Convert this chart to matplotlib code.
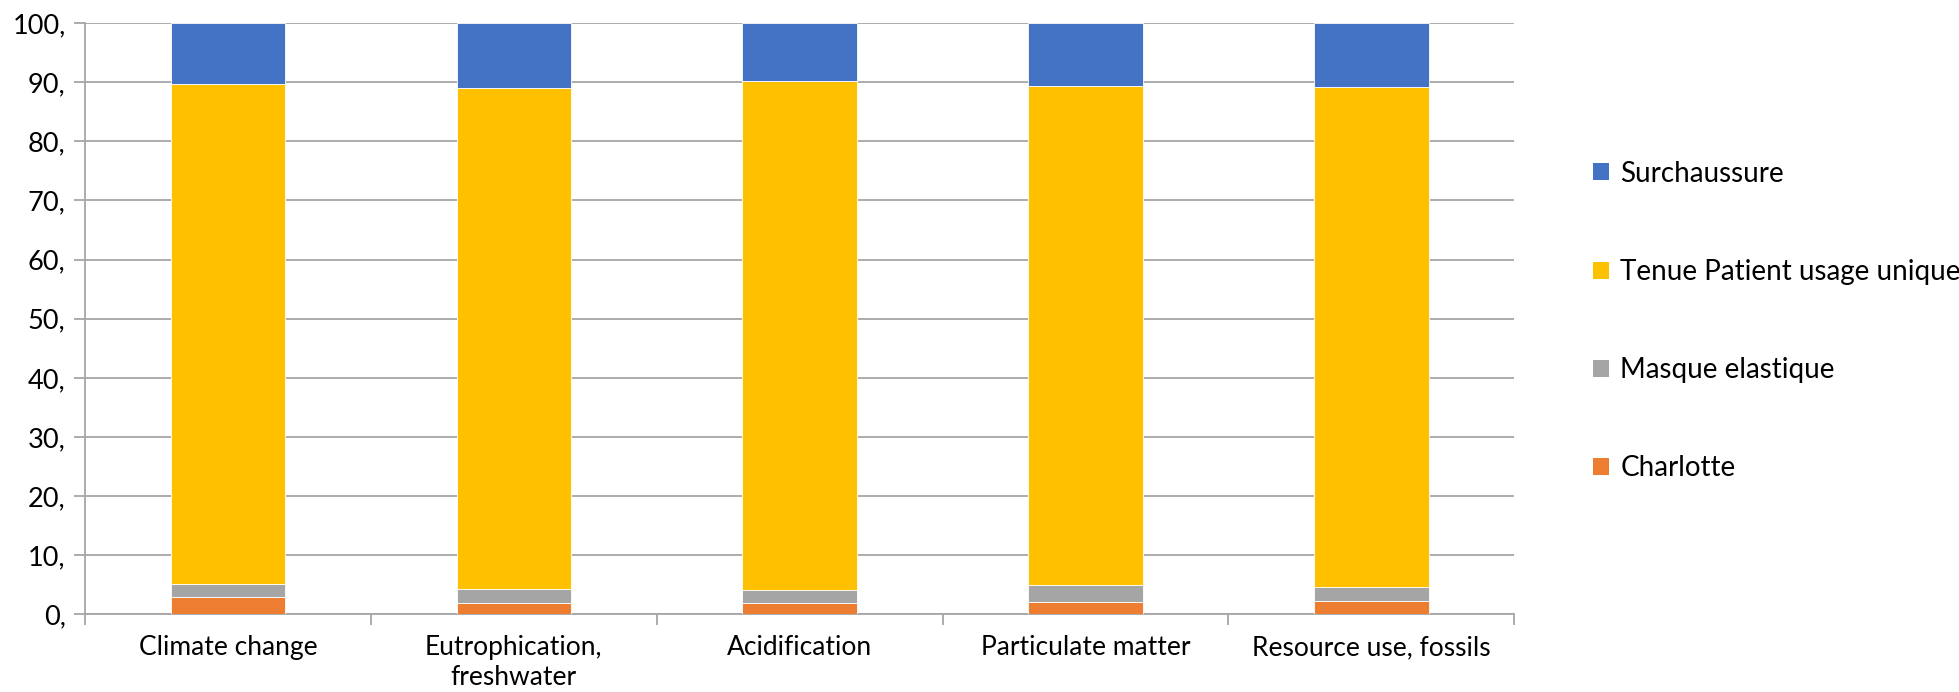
import matplotlib
matplotlib.use("Agg")
import matplotlib.pyplot as plt
from matplotlib.patches import Patch
import numpy as np

plt.rcParams['font.family'] = ['Lato', 'DejaVu Sans']

categories = ["Climate change", "Eutrophication,\nfreshwater", "Acidification",
              "Particulate matter", "Resource use, fossils"]
series_names = ["Charlotte", "Masque elastique", "Tenue Patient usage unique", "Surchaussure"]
charlotte = [2.9, 2.0, 1.9, 2.15, 2.3]
masque = [2.3, 2.35, 2.3, 2.85, 2.4]
tenue = [84.4, 84.65, 86.0, 84.4, 84.5]
surchaussure = [10.4, 11.0, 9.8, 10.6, 10.8]
colors = ["#ED7D31", "#A5A5A5", "#FFC000", "#4472C4"]
yticks = [0, 10, 20, 30, 40, 50, 60, 70, 80, 90, 100]
ytick_labels = [f"{v}," for v in yticks]

fig = plt.figure(figsize=(19.59, 6.92), dpi=100)
ax = fig.add_axes([0.0434, 0.112, 0.7296, 0.855])

x = np.arange(len(categories))
bottom = np.zeros(len(categories))
handles = []
for name, vals, col in zip(series_names, [charlotte, masque, tenue, surchaussure], colors):
    ax.bar(x, vals, width=0.4, bottom=bottom, color=col, edgecolor="white",
           linewidth=0.6, zorder=3)
    bottom += np.array(vals)
    handles.append(Patch(facecolor=col, edgecolor="none", label=name))

grid_col = "#A6A6A6"
ax.set_xlim(-0.5, len(categories) - 0.5)
ax.set_ylim(0, 100)
ax.set_yticks(yticks)
ax.set_yticklabels(ytick_labels, fontsize=19.5)
ax.yaxis.grid(True, color=grid_col, linewidth=1.3, zorder=0)
ax.set_axisbelow(True)

ax.set_xticks(x)
ax.set_xticklabels(categories, fontsize=19, linespacing=1.22)
ax.set_xticks(np.arange(-0.5, len(categories)), minor=True)
ax.tick_params(axis="x", which="major", length=0, pad=15)
ax.tick_params(axis="x", which="minor", length=8, width=1.3, color=grid_col)
ax.tick_params(axis="y", length=8, width=1.3, color=grid_col, pad=6)

for side in ["top", "right"]:
    ax.spines[side].set_visible(False)
for side in ["left", "bottom"]:
    ax.spines[side].set_color(grid_col)
    ax.spines[side].set_linewidth(1.3)

fig.legend(handles=handles[::-1], loc="center left",
           bbox_to_anchor=(1593 / 1959, 1 - 321 / 692), frameon=False,
           fontsize=20, handlelength=0.57, handleheight=0.57, handletextpad=0.42,
           labelspacing=2.6, borderpad=0, borderaxespad=0)

fig.savefig("out.png", dpi=100)
